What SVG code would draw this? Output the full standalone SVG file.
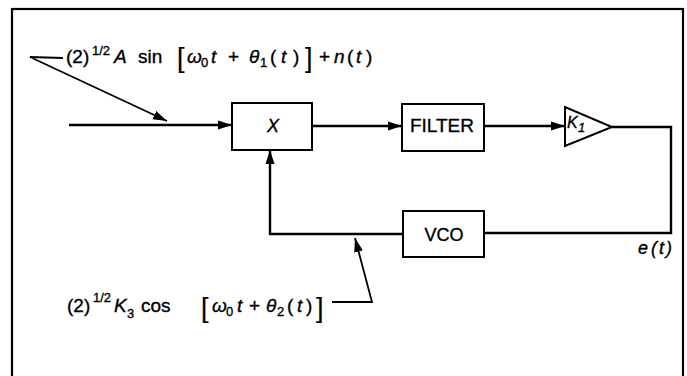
<svg xmlns="http://www.w3.org/2000/svg" width="687" height="376" viewBox="0 0 687 376">
<style>
.frame{fill:none;stroke:#000;stroke-width:2.2}
.box{fill:#fff;stroke:#000;stroke-width:2}
.wire{fill:none;stroke:#000;stroke-width:2.4}
.lead{fill:none;stroke:#000;stroke-width:1.8}
text{font-family:"Liberation Sans","DejaVu Sans",Arial,sans-serif;fill:#000;stroke:#000;stroke-width:0.35}
.lbl{font-size:19px}
.it{font-style:italic}
.eq{font-size:19px}
.sm{font-size:13px}
.br{font-size:27px;stroke-width:0.2}
</style>
<defs>
<marker id="ah" markerUnits="userSpaceOnUse" markerWidth="15" markerHeight="10" refX="14" refY="5" orient="auto">
<path d="M0,0.5 L14,5 L0,9.5 Z" fill="#000"/>
</marker>
</defs>
<rect class="frame" x="12" y="9" width="671" height="380"/>
<g id="connectors">
<line class="wire" x1="69" y1="125" x2="232" y2="125" marker-end="url(#ah)"/>
<line class="wire" x1="312" y1="126" x2="402" y2="126" marker-end="url(#ah)"/>
<line class="wire" x1="484" y1="126" x2="565" y2="126" marker-end="url(#ah)"/>
<polyline class="wire" points="612,127 671,127 671,233 484,233"/>
<polyline class="wire" points="403,234 270,234 270,150" marker-end="url(#ah)"/>
<polyline class="lead" points="63,58 30,57 167,121" marker-end="url(#ah)"/>
<polyline class="lead" points="332,302 372,302 355,238" marker-end="url(#ah)"/>
</g>
<g id="mixer">
<rect class="box" x="232" y="103" width="80" height="47"/>
<text class="it" font-size="18" x="273" y="132" text-anchor="middle">X</text>
</g>
<g id="filter">
<rect class="box" x="402" y="104" width="82" height="47"/>
<text class="lbl" x="442" y="132" text-anchor="middle">FILTER</text>
</g>
<g id="amp">
<polygon class="box" points="565,107 565,146 612,127"/>
<text class="it" font-size="16" x="567" y="128">K<tspan class="sm" x="578" y="132">1</tspan></text>
</g>
<g id="vco">
<rect class="box" x="403" y="211" width="81" height="46"/>
<text font-size="18" x="444" y="241" text-anchor="middle">VCO</text>
</g>
<g id="label-input">
<text class="eq" y="63"><tspan x="66">(2)</tspan><tspan class="sm" x="92" y="55">1/2</tspan><tspan class="it" x="114" y="63">A</tspan><tspan x="138">sin</tspan><tspan class="br" x="177" y="67">[</tspan><tspan class="it" x="187" y="63">ω</tspan><tspan class="sm" x="201" y="67">0</tspan><tspan class="it" x="211" y="63">t</tspan><tspan x="228">+</tspan><tspan class="it" x="249">θ</tspan><tspan class="sm" x="260" y="67">1</tspan><tspan x="270" y="63">(</tspan><tspan class="it" x="281">t</tspan><tspan x="293">)</tspan><tspan class="br" x="305" y="67">]</tspan><tspan x="319" y="63">+</tspan><tspan class="it" x="334">n</tspan><tspan x="347">(</tspan><tspan class="it" x="356">t</tspan><tspan x="366">)</tspan></text>
</g>
<g id="label-vco">
<text class="eq" y="312"><tspan x="67">(2)</tspan><tspan class="sm" x="93" y="302">1/2</tspan><tspan class="it" x="114" y="312">K</tspan><tspan class="sm" x="127" y="318">3</tspan><tspan x="141" y="312">cos</tspan><tspan class="br" x="201" y="317">[</tspan><tspan class="it" x="212" y="312">ω</tspan><tspan class="sm" x="226" y="316">0</tspan><tspan class="it" x="237" y="312">t</tspan><tspan x="249">+</tspan><tspan class="it" x="266">θ</tspan><tspan class="sm" x="277" y="316">2</tspan><tspan x="287" y="312">(</tspan><tspan class="it" x="297">t</tspan><tspan x="306">)</tspan><tspan class="br" x="316" y="317">]</tspan></text>
</g>
<g id="label-e">
<text class="it" font-size="18" y="254"><tspan x="638">e</tspan><tspan x="651">(</tspan><tspan x="659">t</tspan><tspan x="666">)</tspan></text>
</g>
</svg>
